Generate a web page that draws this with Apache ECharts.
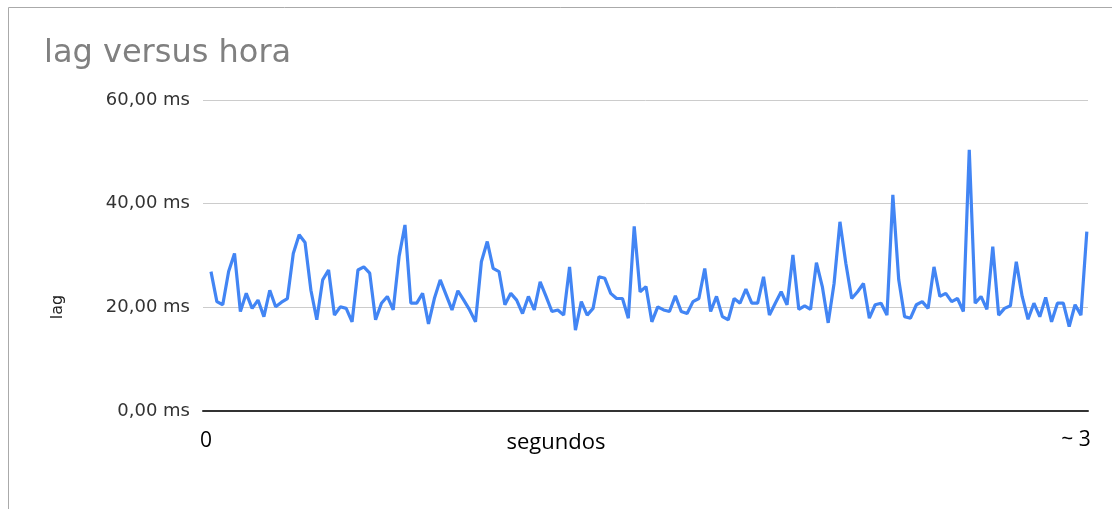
<!DOCTYPE html>
<html lang="pt">
<head>
    <meta charset="utf-8">
    <title>lag versus hora</title>
    <script src="https://cdn.jsdelivr.net/npm/echarts@6/dist/echarts.min.js"></script>
</head>
<body style="margin: 0">
<div id="container" style="height: 509px; width: 1112px"></div>
<script type="text/javascript">
    // lag em ms, uma amostra por ponto
    var lag = [
        26.9, 21.1, 20.5, 26.9, 30.4, 19.2, 22.7, 19.8, 21.4, 18.2,
        23.3, 20.1, 21.0, 21.7, 30.4, 34.0, 32.5, 23.3, 17.6, 25.3,
        27.2, 18.5, 20.1, 19.8, 17.2, 27.2, 27.8, 26.6, 17.6, 20.8,
        22.1, 19.5, 29.8, 35.9, 20.8, 20.8, 22.7, 16.8, 21.7, 25.3,
        22.4, 19.5, 23.2, 21.4, 19.5, 17.2, 28.8, 32.7, 27.5, 26.9,
        20.5, 22.7, 21.4, 18.8, 22.1, 19.5, 24.9, 22.1, 19.2, 19.5,
        18.5, 27.8, 15.6, 21.1, 18.5, 19.8, 25.9, 25.6, 22.7, 21.7,
        21.7, 17.9, 35.6, 23.0, 24.0, 17.2, 20.1, 19.5, 19.2, 22.2,
        19.2, 18.8, 21.1, 21.7, 27.5, 19.2, 22.1, 18.2, 17.6, 21.7,
        20.8, 23.5, 20.8, 20.8, 25.9, 18.5, 20.8, 23.0, 20.5, 30.1,
        19.6, 20.3, 19.6, 28.6, 24.0, 17.0, 24.6, 36.5, 28.5, 21.7,
        23.0, 24.6, 17.9, 20.5, 20.8, 18.5, 41.7, 25.3, 18.2, 17.9,
        20.5, 21.1, 19.8, 27.8, 22.1, 22.7, 21.1, 21.7, 19.2, 50.4,
        20.8, 22.1, 19.6, 31.7, 18.5, 19.8, 20.3, 28.8, 22.1, 17.7,
        20.8, 18.2, 21.9, 17.2, 20.8, 20.8, 16.3, 20.5, 18.5, 34.6
    ];
    var yTicks = [0, 20, 40, 60];
    var xLabels = ['0', '~ 3'];

    var pontos = [];
    for (var i = 0; i < lag.length; i++) {
        pontos.push([i, lag[i]]);
    }

    var dom = document.getElementById("container");
    var myChart = echarts.init(dom);
    var option = {
        animation: false,
        backgroundColor: '#fff',
        title: {
            text: 'lag versus hora',
            left: 39,
            top: 33,
            textStyle: {
                fontFamily: 'DejaVu Sans',
                fontSize: 32,
                fontWeight: 'normal',
                color: '#808080'
            }
        },
        grid: {left: 203, right: 24, top: 100, bottom: 98},
        xAxis: {
            type: 'value',
            min: -1.36,
            max: 149.2,
            axisLine: {show: true, lineStyle: {color: '#333', width: 2}},
            axisTick: {show: false},
            axisLabel: {show: false},
            splitLine: {show: false}
        },
        yAxis: {
            type: 'value',
            min: yTicks[0],
            max: yTicks[yTicks.length - 1],
            interval: 20,
            axisLine: {show: false},
            axisTick: {show: false},
            axisLabel: {
                margin: 13,
                fontFamily: 'DejaVu Sans',
                fontSize: 18,
                color: '#333',
                formatter: function (v) {
                    return v.toFixed(2).replace('.', ',') + ' ms';
                }
            },
            splitLine: {lineStyle: {color: '#ccc', width: 1}}
        },
        series: [{
            type: 'line',
            data: pontos,
            showSymbol: false,
            lineStyle: {color: '#4285f4', width: 3.2},
            itemStyle: {color: '#4285f4'}
        }],
        graphic: [
            {
                type: 'rect',
                shape: {x: 8.5, y: 7.5, width: 1200, height: 600},
                style: {fill: 'none', stroke: '#aaa', lineWidth: 1}
            },
            {
                type: 'text',
                x: 58, y: 307,
                rotation: Math.PI / 2,
                style: {
                    text: 'lag', fill: '#222',
                    font: '16px "DejaVu Sans"',
                    align: 'center', verticalAlign: 'middle'
                }
            },
            {
                type: 'text',
                x: 206, y: 441,
                style: {
                    text: xLabels[0], fill: '#000',
                    font: '21px "Open Sans"',
                    align: 'center', verticalAlign: 'middle'
                }
            },
            {
                type: 'text',
                x: 556, y: 443,
                style: {
                    text: 'segundos', fill: '#000',
                    font: '22px "Open Sans"',
                    align: 'center', verticalAlign: 'middle'
                }
            },
            {
                type: 'text',
                x: 1076, y: 440,
                style: {
                    text: xLabels[1], fill: '#000',
                    font: '21px "Open Sans"',
                    align: 'center', verticalAlign: 'middle'
                }
            }
        ]
    };
    myChart.setOption(option);
</script>
</body>
</html>
